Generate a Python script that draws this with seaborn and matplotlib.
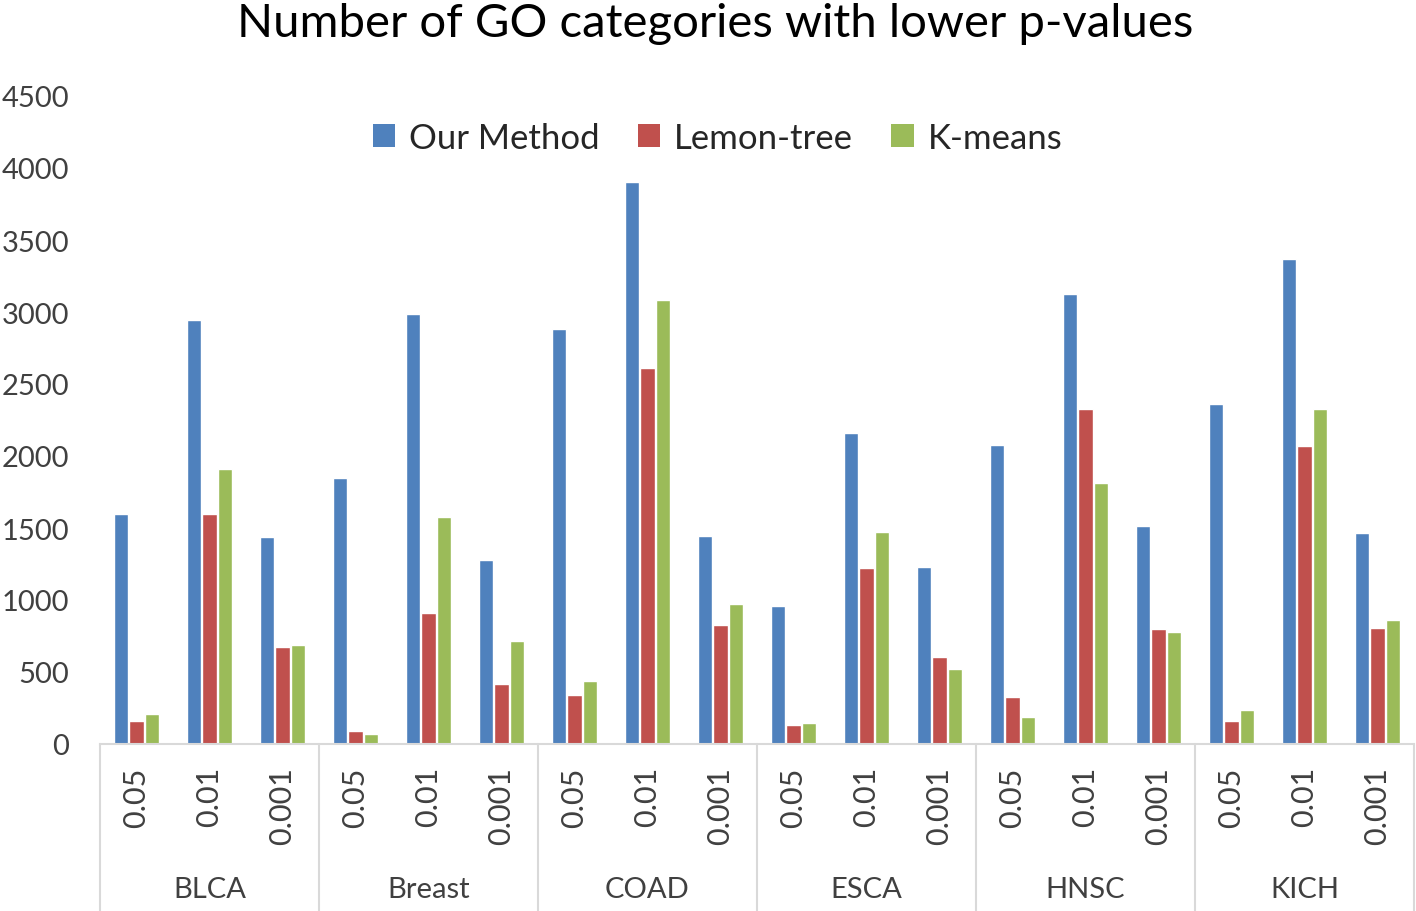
import pandas as pd
import numpy as np
import matplotlib
matplotlib.use("Agg")
import matplotlib.pyplot as plt
import matplotlib.transforms as mtransforms
from matplotlib.patches import Patch
import seaborn as sns

# data
cancers = ["BLCA", "Breast", "COAD", "ESCA", "HNSC", "KICH"]
pvals = ["0.05", "0.01", "0.001"]
methods = ["Our Method", "Lemon-tree", "K-means"]

our_method = [1595, 2945, 1435,
              1848, 2986, 1281,
              2882, 3901, 1441,
              955, 2159, 1228,
              2077, 3122, 1516,
              2361, 3366, 1465]
lemon_tree = [157, 1595, 673,
              93, 912, 415,
              338, 2608, 824,
              130, 1223, 601,
              327, 2329, 798,
              157, 2071, 803]
k_means = [205, 1909, 686,
           69, 1574, 718,
           439, 3084, 971,
           149, 1470, 519,
           186, 1811, 779,
           234, 2327, 864]

colors = ["#4F81BD", "#C0504D", "#9BBB59"]

# long table for seaborn
keys = [c + " " + p for c in cancers for p in pvals]
rows = []
for name, vals in zip(methods, [our_method, lemon_tree, k_means]):
    for k, v in zip(keys, vals):
        rows.append({"key": k, "method": name, "value": v})
df = pd.DataFrame(rows)

sns.set_style("white")
plt.rcParams["font.family"] = ["Lato", "DejaVu Sans"]

fig = plt.figure(figsize=(14.16, 9.12), dpi=100)
ax = fig.add_axes([100 / 1416, 167 / 912, 1314 / 1416, 648 / 912])

sns.barplot(data=df, x="key", y="value", hue="method", order=keys,
            hue_order=methods, palette=colors, width=0.64, gap=0.1,
            saturation=1, ax=ax, legend=False)

ax.set_ylim(0, 4500)
ax.set_xlim(-0.5, len(keys) - 0.5)
ax.set_yticks(np.arange(0, 4501, 500))
ax.set_xlabel("")
ax.set_ylabel("")
for s in ["top", "right", "left"]:
    ax.spines[s].set_visible(False)
ax.spines["bottom"].set_color("#D9D9D9")
ax.spines["bottom"].set_linewidth(1.5)

ax.set_xticks(range(len(keys)))
ax.set_xticklabels([p for c in cancers for p in pvals], rotation=90,
                   fontsize=22, color="#404040")
ax.tick_params(axis="x", length=0, pad=16)
ax.tick_params(axis="y", length=0, labelsize=21, labelcolor="#404040", pad=22)

# category table below the axis
trans = mtransforms.blended_transform_factory(ax.transData, ax.transAxes)
for i in range(len(cancers) + 1):
    x = i * 3 - 0.5
    ax.plot([x, x], [0, -0.26], transform=trans, color="#D9D9D9",
            lw=1.5, clip_on=False)
for i, c in enumerate(cancers):
    ax.text(i * 3 + 1, -0.224, c, transform=trans, ha="center", va="center",
            fontsize=21, color="#404040")

handles = [Patch(facecolor=col, edgecolor="none") for col in colors]
ax.legend(handles, methods, loc="upper center", bbox_to_anchor=(0.47, 1.008),
          ncol=3, frameon=False, fontsize=25, handlelength=0.65,
          handleheight=0.65, handletextpad=0.4, columnspacing=1.1)

fig.text(0.505, 0.974, "Number of GO categories with lower p-values",
         ha="center", va="center", fontsize=34, color="black")

fig.savefig("out.png", dpi=100)
